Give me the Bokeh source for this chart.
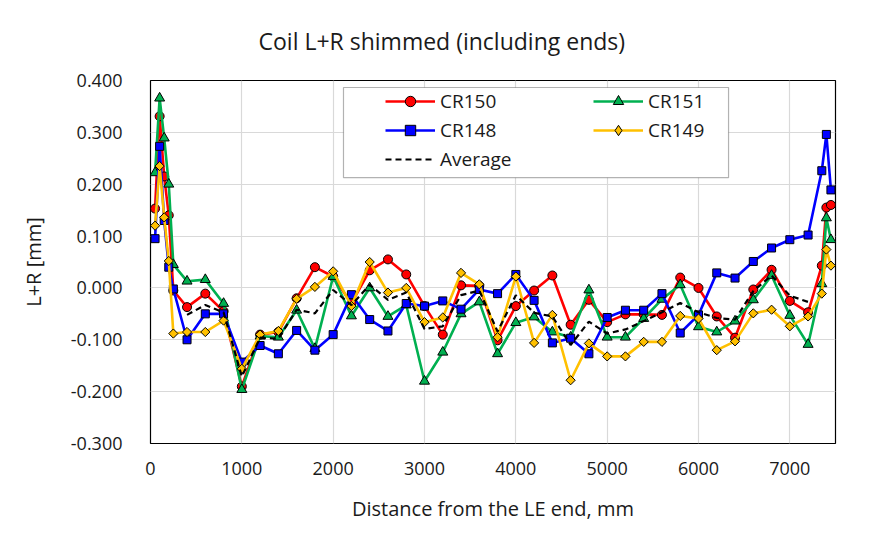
import numpy as np
from bokeh.plotting import figure
from bokeh.models import (ColumnDataSource, Legend, LegendItem, FixedTicker,
                          NumeralTickFormatter, Range1d, BoxAnnotation)
from bokeh.embed import file_html
from bokeh.resources import INLINE

# ---------------- data ----------------
distance_mm = [50, 100, 150, 200, 250,
               400, 600, 800, 1000, 1200, 1400, 1600, 1800,
               2000, 2200, 2400, 2600, 2800,
               3000, 3200, 3400, 3600, 3800,
               4000, 4200, 4400, 4600, 4800,
               5000, 5200, 5400, 5600, 5800,
               6000, 6200, 6400, 6600, 6800,
               7000, 7200,
               7350, 7400, 7450]

cr150 = [0.153, 0.331, 0.215, 0.140, -0.005,
         -0.037, -0.011, -0.045, -0.190, -0.090, -0.085, -0.020, 0.040,
         0.022, -0.030, 0.034, 0.055, 0.026,
         -0.035, -0.090, 0.005, 0.004, -0.101,
         -0.035, -0.005, 0.024, -0.071, -0.023,
         -0.066, -0.051, -0.051, -0.052, 0.020,
         0.000, -0.055, -0.096, -0.003, 0.035,
         -0.025, -0.047,
         0.043, 0.155, 0.160]

cr151 = [0.222, 0.366, 0.289, 0.200, 0.045,
         0.013, 0.016, -0.030, -0.196, -0.093, -0.095, -0.043, -0.117,
         0.022, -0.054, 0.000, -0.055, -0.033,
         -0.180, -0.124, -0.050, -0.027, -0.127,
         -0.067, -0.056, -0.085, -0.095, -0.004,
         -0.095, -0.095, -0.059, -0.022, 0.006,
         -0.075, -0.085, -0.064, -0.023, 0.024,
         -0.053, -0.109,
         0.008, 0.135, 0.093]

cr148 = [0.095, 0.273, 0.130, 0.040, -0.002,
         -0.100, -0.050, -0.050, -0.143, -0.111, -0.127, -0.082, -0.120,
         -0.090, -0.013, -0.061, -0.083, -0.030,
         -0.035, -0.025, -0.041, -0.003, -0.011,
         0.026, -0.024, -0.106, -0.097, -0.127,
         -0.057, -0.043, -0.043, -0.011, -0.087,
         -0.052, 0.029, 0.019, 0.051, 0.077,
         0.093, 0.102,
         0.226, 0.296, 0.189]

cr149 = [0.120, 0.235, 0.136, 0.052, -0.088,
         -0.085, -0.085, -0.063, -0.156, -0.090, -0.083, -0.021, 0.002,
         0.032, -0.035, 0.050, -0.009, 0.000,
         -0.066, -0.057, 0.029, 0.007, -0.095,
         0.022, -0.106, -0.052, -0.178, -0.107,
         -0.132, -0.132, -0.104, -0.104, -0.054,
         -0.059, -0.120, -0.103, -0.049, -0.042,
         -0.074, -0.055,
         -0.011, 0.074, 0.043]

avg_distance_mm = [400, 600, 800, 1000, 1200, 1400, 1600, 1800,
                   2000, 2200, 2400, 2600, 2800,
                   3000, 3200, 3400, 3600, 3800,
                   4000, 4200, 4400, 4600, 4800,
                   5000, 5200, 5400, 5600, 5800,
                   6000, 6200, 6400, 6600, 6800,
                   7000, 7200]
average = [-0.052, -0.033, -0.047, -0.171, -0.096, -0.098, -0.042, -0.049,
           -0.004, -0.033, 0.006, -0.023, -0.009,
           -0.079, -0.074, -0.014, -0.005, -0.084,
           -0.014, -0.048, -0.055, -0.110, -0.065,
           -0.088, -0.080, -0.064, -0.047, -0.029,
           -0.047, -0.058, -0.061, -0.006, 0.024,
           -0.015, -0.027]

x_ticks = [0, 1000, 2000, 3000, 4000, 5000, 6000, 7000]
y_ticks = [-0.3, -0.2, -0.1, 0.0, 0.1, 0.2, 0.3, 0.4]

FONT = "Open Sans"
TEXT = "#1a1a1a"

# ---------------- figure ----------------
p = figure(width=876, height=539, output_backend="svg", toolbar_location=None,
           x_range=Range1d(0, 7500), y_range=Range1d(-0.3, 0.4),
           min_border_left=150, min_border_right=41,
           min_border_top=80, min_border_bottom=96)

p.title.text = "Coil L+R shimmed (including ends)"
p.title.align = "left"
p.title.vertical_align = "top"
p.title.text_font = FONT
p.title.text_font_size = "23px"
p.title.text_font_style = "normal"
p.title.text_color = TEXT
p.title.offset = 108
p.title.standoff = 44

p.outline_line_color = "black"
p.outline_line_width = 1.2
p.background_fill_color = "white"
p.border_fill_color = "white"

for ax in (p.xaxis[0], p.yaxis[0]):
    ax.axis_line_color = None
    ax.major_tick_line_color = None
    ax.minor_tick_line_color = None
    ax.major_label_text_font = FONT
    ax.major_label_text_font_size = "18px"
    ax.major_label_text_color = TEXT
    ax.axis_label_text_font = FONT
    ax.axis_label_text_font_size = "20px"
    ax.axis_label_text_font_style = "normal"
    ax.axis_label_text_color = TEXT

p.xaxis.ticker = FixedTicker(ticks=x_ticks)
p.yaxis.ticker = FixedTicker(ticks=y_ticks)
p.yaxis.formatter = NumeralTickFormatter(format="0.000")
p.xaxis.axis_label = "Distance from the LE end, mm"
p.yaxis.axis_label = "L+R [mm]"
p.xaxis.major_label_standoff = 12
p.yaxis.major_label_standoff = 22
p.xaxis.axis_label_standoff = 17
p.yaxis.axis_label_standoff = 21

p.xgrid.ticker = FixedTicker(ticks=x_ticks)
p.ygrid.ticker = FixedTicker(ticks=y_ticks)
for g in (p.xgrid[0], p.ygrid[0]):
    g.grid_line_color = "#d9d9d9"
    g.grid_line_width = 1.2

# ---------------- series ----------------
series = [
    ("CR150", cr150, "#ff0000", "circle", 9, 0.0),
    ("CR151", cr151, "#00b050", "triangle", 10, 0.0),
    ("CR148", cr148, "#0000ff", "square", 8, 0.0),
    ("CR149", cr149, "#ffc000", "square", 6.5, np.pi / 4),
]

items = {}
for name, vals, color, marker, size, angle in series:
    src = ColumnDataSource(dict(x=distance_mm, y=vals))
    lr = p.line("x", "y", source=src, line_color=color, line_width=2.6, line_join="round")
    sr = p.scatter("x", "y", source=src, marker=marker, size=size, angle=angle,
                   fill_color=color, line_color="black", line_width=1)
    if angle:
        # legend swatch: rotated markers are drawn unrotated in legends
        sr = p.scatter(x=[np.nan], y=[np.nan], marker="diamond", size=12,
                       fill_color=color, line_color="black", line_width=1)
    items[name] = LegendItem(label=name, renderers=[lr, sr])

avg_src = ColumnDataSource(dict(x=avg_distance_mm, y=average))
ar = p.line("x", "y", source=avg_src, line_color="black", line_width=2.2,
            line_dash="6 4")
items["Average"] = LegendItem(label="Average", renderers=[ar])

# legend frame
LEG_LEFT, LEG_RIGHT, LEG_TOP, LEG_BOTTOM = 2113, 6329, 0.3865, 0.2126
box = BoxAnnotation(left=LEG_LEFT, right=LEG_RIGHT, top=LEG_TOP, bottom=LEG_BOTTOM,
                    fill_color="white", fill_alpha=1.0,
                    line_color="black", line_width=1.2)
p.add_layout(box)

legend = Legend(items=[items["CR150"], items["CR151"], items["CR148"],
                       items["CR149"], items["Average"]],
                orientation="horizontal", ncols=2,
                location=(235, 271), padding=0, margin=0, spacing=3,
                glyph_width=50, glyph_height=26, label_height=26,
                label_width=150, label_standoff=5,
                label_text_font=FONT, label_text_font_size="19px",
                label_text_color=TEXT,
                border_line_color=None, background_fill_alpha=0.0)
p.add_layout(legend, "center")

open("out.html", "w").write(file_html(p, INLINE))
